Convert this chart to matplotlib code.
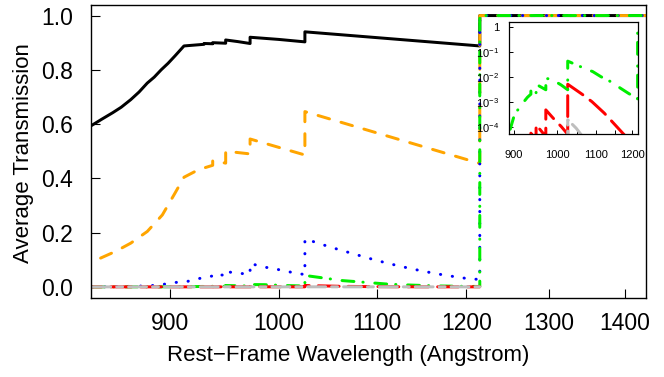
import matplotlib
matplotlib.use("Agg")
import matplotlib.pyplot as plt
from matplotlib.ticker import NullLocator

plt.rcParams['font.family'] = ['Liberation Sans', 'DejaVu Sans']
plt.rcParams['mathtext.fontset'] = 'custom'
plt.rcParams['mathtext.rm'] = 'Liberation Sans'

# rest-frame wavelength (Angstrom) and average transmission, one set per curve
# (repeated wavelengths mark the jumps at the Lyman lines)
black_wl = [820, 833, 842, 851, 858, 866, 873, 880, 886, 892, 898, 904, 912,
            921, 930, 930, 937.8, 937.8, 949.7, 949.7, 961, 972.5, 972.5,
            1000, 1025.7, 1025.7, 1215.7, 1215.7, 1450]
black_t = [0.56, 0.593, 0.618, 0.642, 0.662, 0.69, 0.718, 0.751, 0.773, 0.80,
           0.824, 0.851, 0.888, 0.891, 0.894, 0.897, 0.896, 0.900, 0.898,
           0.910, 0.904, 0.897, 0.920, 0.912, 0.903, 0.940, 0.888, 1.0, 1.0]

orange_wl = [841, 853, 866, 880, 893, 904, 912, 925, 937.8, 937.8, 949.7,
             949.7, 972.5, 972.5, 1025.7, 1025.7, 1215.7, 1215.7, 1450]
orange_t = [0.106, 0.13, 0.161, 0.204, 0.265, 0.345, 0.404, 0.432, 0.448,
            0.465, 0.456, 0.50, 0.49, 0.545, 0.486, 0.646, 0.455, 1.0, 1.0]

blue_wl = [825, 850, 870, 885, 895, 904, 915, 931, 937.8, 937.8, 949.7, 949.7,
           965, 972.5, 972.5, 986, 998, 1009, 1025.7, 1025.7, 1050, 1075, 1100,
           1125, 1150, 1175, 1200, 1215.7, 1215.7, 1450]
blue_t = [0.0, 0.0005, 0.002, 0.005, 0.010, 0.016, 0.020, 0.036, 0.040, 0.045,
          0.043, 0.056, 0.049, 0.046, 0.086, 0.073, 0.065, 0.056, 0.045, 0.177,
          0.148, 0.122, 0.097, 0.076, 0.058, 0.043, 0.031, 0.027, 1.0, 1.0]

green_wl = [825, 870, 890, 902, 912, 922, 930, 937.8, 937.8, 949.7, 949.7,
            972.5, 972.5, 986, 1010, 1025.7, 1025.7, 1064, 1090, 1112, 1139,
            1167, 1188, 1215.7, 1215.7, 1450]
green_t = [5e-6, 2e-5, 6e-5, 3.5e-4, 5.5e-4, 1.0e-3, 1.5e-3, 2.0e-3, 2.9e-3,
           2.0e-3, 5.0e-3, 3.0e-3, 8.5e-3, 8.0e-3, 4.6e-3, 3.0e-3, 0.042,
           0.023, 0.016, 0.010, 6.3e-3, 3.4e-3, 2.2e-3, 1.3e-3, 1.0, 1.0]

red_wl = [825, 900, 937.8, 937.8, 949.7, 949.7, 966, 972.5, 972.5, 990, 1010,
          1025.7, 1025.7, 1062, 1088, 1121, 1153, 1190, 1215.7]
red_t = [1e-7, 5e-6, 1.5e-5, 5.5e-5, 3e-5, 1.2e-4, 5.5e-5, 3.5e-5, 4.7e-4,
         2.2e-4, 1.0e-4, 5e-5, 5e-3, 2e-3, 1e-3, 3.5e-4, 1.1e-4, 3e-5, 1.5e-5]

gray_wl = [825, 1025.7, 1025.7, 1047, 1070, 1100, 1150, 1215.7]
gray_t = [1e-9, 1e-7, 1.9e-4, 8.7e-5, 3e-5, 8e-6, 1e-6, 1e-7]

main_ticks = [900, 1000, 1100, 1200, 1300, 1400]
inset_xticks = [900, 950, 1000, 1050, 1100, 1150, 1200]
inset_xlabels = ['900', '', '1000', '', '1100', '', '1200']
inset_yticks = [1e-4, 1e-3, 1e-2, 1e-1, 1]
inset_ylabels = [r'$\mathregular{10^{-4}}$', r'$\mathregular{10^{-3}}$',
                 r'$\mathregular{10^{-2}}$', r'$\mathregular{10^{-1}}$', '1']

lw = 2.15
styles = [
    (black_wl, black_t, 'black', None),
    (orange_wl, orange_t, 'orange', (4, 4)),
    (blue_wl, blue_t, 'blue', (0.1, 3.9)),
    (green_wl, green_t, '#00ee00', (0.1, 3.9, 4, 3)),
    (red_wl, red_t, 'red', (7, 3)),
    (gray_wl, gray_t, '#bebebe', (2, 2, 6, 2)),
]

fig = plt.figure(figsize=(6.64, 3.77), dpi=100)
ax = fig.add_axes([91 / 664, 1 - 297.7 / 377, 554.7 / 664, 293 / 377])

for wl, t, c, d in styles:
    line, = ax.plot(wl, t, color=c, lw=lw, solid_capstyle='round',
                    dash_capstyle='round', solid_joinstyle='round')
    if d is not None:
        line.set_dashes(d)

ax.set_xscale('log')
ax.set_xlim(833.2, 1428.4)
ax.set_ylim(-0.04, 1.04)
ax.set_xticks(main_ticks)
ax.set_xticklabels([str(v) for v in main_ticks])
ax.xaxis.set_minor_locator(NullLocator())
ax.set_yticks([0, 0.2, 0.4, 0.6, 0.8, 1.0])
ax.set_yticklabels(['0.0', '0.2', '0.4', '0.6', '0.8', '1.0'])
ax.tick_params(axis='both', direction='in', length=6.2, width=0.8,
               labelsize=16.5)
ax.tick_params(axis='x', pad=10.5)
ax.tick_params(axis='y', pad=13)
for s in ax.spines.values():
    s.set_linewidth(1.0)

fig.text(348.5 / 664, 1 - 355 / 377, 'Rest\u2212Frame Wavelength (Angstrom)',
         ha='center', va='center', fontsize=16)
fig.text(24 / 664, 1 - 153 / 377, 'Average Transmission', rotation=90,
         ha='center', va='center', fontsize=16)

# inset with the low-transmission curves on a log scale
axin = fig.add_axes([509 / 664, 1 - 134.3 / 377, 128.7 / 664, 112 / 377])
for wl, t, c, d in styles[3:]:
    line, = axin.plot(wl, t, color=c, lw=lw, solid_capstyle='round',
                      dash_capstyle='round')
    line.set_dashes(d)
axin.set_xscale('log')
axin.set_yscale('log')
axin.set_xlim(889.2, 1216)
axin.set_ylim(10 ** -4.304, 10 ** 0.176)
axin.set_xticks(inset_xticks)
axin.set_xticklabels(inset_xlabels)
axin.xaxis.set_minor_locator(NullLocator())
axin.set_yticks(inset_yticks)
axin.set_yticklabels(inset_ylabels)
axin.yaxis.set_minor_locator(NullLocator())
axin.tick_params(axis='both', direction='in', length=2.7, width=0.7,
                 labelsize=8)
axin.tick_params(axis='x', pad=11)
axin.tick_params(axis='y', pad=7)
for s in axin.spines.values():
    s.set_linewidth(0.9)

fig.savefig('out.png', dpi=100)
